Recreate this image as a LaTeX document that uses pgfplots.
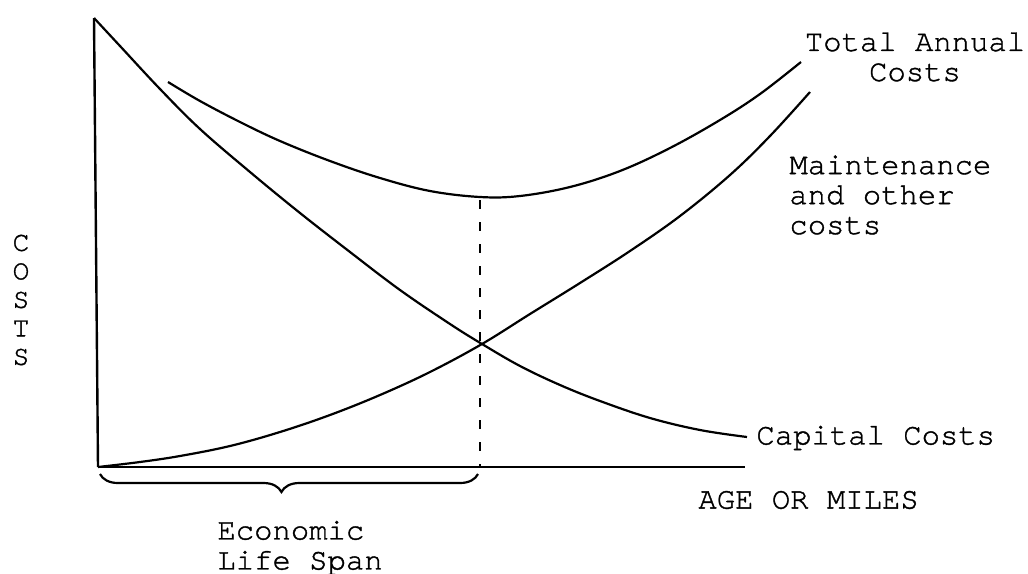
\documentclass[border=0pt]{standalone}
\usepackage{fontspec}
\setmainfont{TeX Gyre Cursor}[FakeBold=1.2]
\usepackage{pgfplots}
\pgfplotsset{compat=1.18}
\usetikzlibrary{decorations.pathreplacing}
\begin{document}
\begin{tikzpicture}[lab/.style={font=\fontsize{15.3}{15}\selectfont, inner sep=0pt, align=left}]
\begin{axis}[name=ax,
  width=514pt, height=286.5pt, scale only axis,
  xmin=0, xmax=1028, ymin=0, ymax=573, y dir=reverse,
  hide axis, clip=false]
% axes
\addplot[black, line width=1.2pt] coordinates {(94,18) (98,467)};
\addplot[black, line width=1.2pt] coordinates {(98,467) (745,467)};
% capital costs
\addplot[black, line width=1.1pt, smooth, tension=0.6] coordinates {
(94,18) (120,46) (160,89) (200,129) (250,172) (300,213) (350,252) (400,290)
(450,324) (482,344) (520,366) (560,385) (600,401) (650,418) (700,430) (747,437)};
% maintenance
\addplot[black, line width=1.1pt, smooth, tension=0.6] coordinates {
(98,467) (140,462) (180,456) (230,446) (280,432) (330,415) (380,395) (430,372)
(482,344) (530,314) (580,283) (630,251) (680,216) (730,175) (770,136) (810,92)};
% total annual
\addplot[black, line width=1.1pt, smooth, tension=0.6] coordinates {
(168,82) (200,101) (240,122) (280,141) (330,161) (380,178) (430,191) (480,197)
(520,196) (570,187) (620,171) (670,148) (720,120) (760,94) (801,62)};
% economic life line
\addplot[black, line width=1.1pt, dash pattern=on 4.5pt off 6.5pt] coordinates {(480,200) (480,467)};
% brace
\draw[black, line width=1.1pt, decorate, decoration={brace, mirror, amplitude=9pt, aspect=0.48}]
  (axis cs:100,474) -- (axis cs:478,474);
% labels
\node[lab, anchor=center, align=center] at (axis cs:915,57) {Total Annual\\Costs};
\node[lab, anchor=west] at (axis cs:789,195) {Maintenance\\and other\\costs};
\node[lab, anchor=west] at (axis cs:756,438) {Capital Costs};
\node[lab, anchor=west] at (axis cs:698,500) {AGE OR MILES};
\node[lab, anchor=west] at (axis cs:217,548) {Economic\\Life Span};
\node[lab, anchor=center, align=center, font=\fontsize{14}{14.25}\selectfont] at (axis cs:21,300) {C\\O\\S\\T\\S};
\end{axis}
\pgfresetboundingbox
\path (ax.south west) rectangle (ax.north east);
\end{tikzpicture}
\end{document}
